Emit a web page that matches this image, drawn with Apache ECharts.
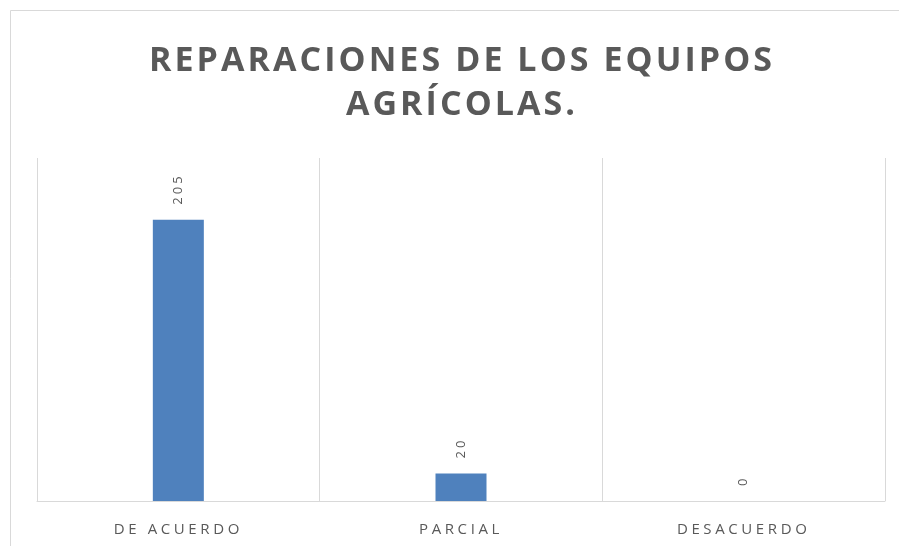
<!DOCTYPE html>
<html>
<head>
<meta charset="utf-8">
<script src="https://cdn.jsdelivr.net/npm/echarts@6/dist/echarts.min.js"></script>
<style>
html,body{margin:0;padding:0;background:#fff;}
#chart{width:899px;height:546px;}
</style>
</head>
<body>
<div id="chart"></div>
<script>
// letter spacing emulation (Excel-style spaced text)
(function(){
  try {
    var proto = CanvasRenderingContext2D.prototype;
    if (!('letterSpacing' in proto)) return;
    var desc = Object.getOwnPropertyDescriptor(proto, 'font');
    Object.defineProperty(proto, 'font', {
      configurable: true,
      get: function(){ return desc.get.call(this); },
      set: function(v){
        desc.set.call(this, v);
        var m = /(\d+(?:\.\d+)?)px/.exec(v);
        if (m) {
          var px = +m[1];
          var bold = /bold|[6-9]00/.test(v);
          this.letterSpacing = (bold ? px * 0.09 : px * 0.24) + 'px';
        }
      }
    });
  } catch (e) {}
})();

var titleText = 'REPARACIONES DE LOS EQUIPOS\nAGRÍCOLAS.';
var categories = ['DE ACUERDO', 'PARCIAL', 'DESACUERDO'];
var values = [205, 20, 0];

var chart = echarts.init(document.getElementById('chart'), null, {renderer: 'canvas'});
chart.setOption({
  backgroundColor: '#ffffff',
  animation: false,
  title: {
    text: titleText,
    left: 457,
    top: 34,
    textAlign: 'center',
    textStyle: {
      fontFamily: 'Open Sans',
      fontWeight: 'bold',
      fontSize: 34,
      lineHeight: 44,
      color: '#595959'
    }
  },
  graphic: [{
    type: 'rect',
    shape: {x: 10.5, y: 10.5, width: 900, height: 540},
    style: {fill: 'none', stroke: '#d9d9d9', lineWidth: 1},
    silent: true
  }],
  grid: {left: 37, right: 14, top: 158, bottom: 45},
  xAxis: {
    type: 'category',
    data: categories,
    boundaryGap: true,
    axisLine: {show: true, lineStyle: {color: '#d9d9d9'}},
    axisTick: {show: false},
    splitLine: {show: true, lineStyle: {color: '#d9d9d9'}},
    axisLabel: {
      fontFamily: 'Open Sans',
      fontSize: 15,
      color: '#595959',
      margin: 19
    }
  },
  yAxis: {
    type: 'value',
    min: 0,
    max: 250,
    show: false,
    splitLine: {show: false}
  },
  series: [{
    type: 'bar',
    data: values,
    barWidth: 51,
    itemStyle: {color: '#4f81bd'},
    label: {
      show: true,
      position: 'top',
      rotate: 90,
      align: 'left',
      verticalAlign: 'middle',
      distance: 15,
      fontFamily: 'Open Sans',
      fontSize: 13,
      color: '#595959'
    }
  }]
});
</script>
</body>
</html>
